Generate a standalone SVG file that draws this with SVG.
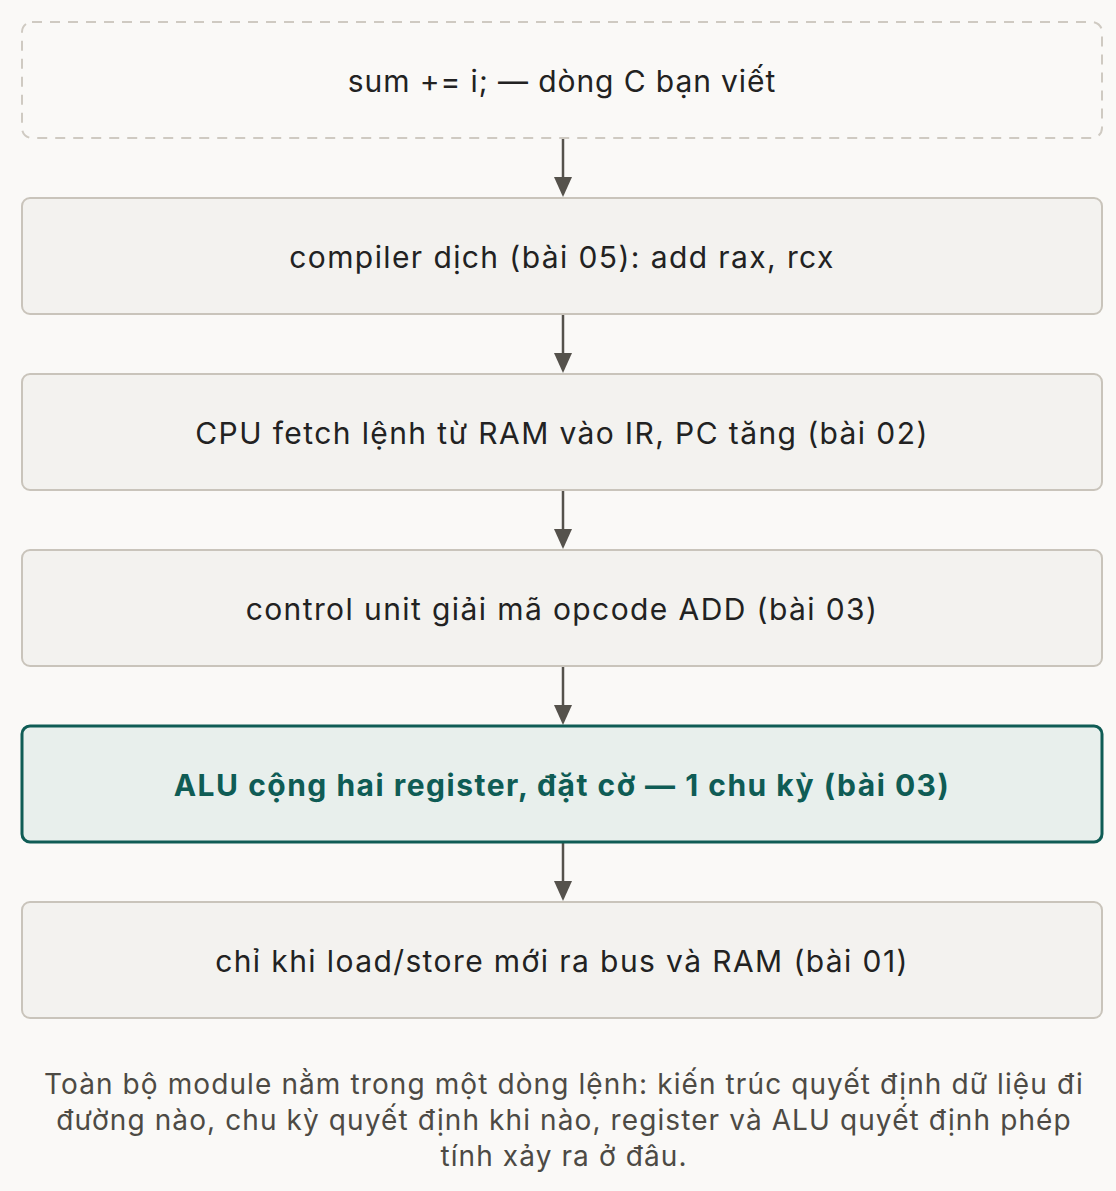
<svg xmlns="http://www.w3.org/2000/svg" width="1116" height="1191" viewBox="0 0 1116 1191">
<style>
.bg{fill:#faf9f7}
.box{fill:#f3f2ef;stroke:#c9c4bb;stroke-width:2}
.dash{fill:none;stroke:#cfcac2;stroke-width:2;stroke-dasharray:10 8}
.hl{fill:#e8efec;stroke:#0f5c55;stroke-width:3}
.t{font-family:Inter,"Liberation Sans",sans-serif;font-size:30px;letter-spacing:1.4px;fill:#222;text-anchor:middle}
.th{font-family:Inter,"Liberation Sans",sans-serif;font-size:30px;letter-spacing:1.5px;font-weight:700;fill:#0f5c55;text-anchor:middle}
.cap{font-family:Inter,"Liberation Sans",sans-serif;font-size:28px;letter-spacing:1.1px;fill:#4d4a44;text-anchor:middle}
.c{stroke:#55524c;stroke-width:2.5;fill:none}
.ah{fill:#55524c}
</style>
<rect class="bg" x="0" y="0" width="1116" height="1191"/>
<g id="connectors">
<line class="c" x1="563" y1="138" x2="563" y2="178"/><path class="ah" d="M554,177 L572,177 L563,197 Z"/>
<line class="c" x1="563" y1="314" x2="563" y2="354"/><path class="ah" d="M554,353 L572,353 L563,373 Z"/>
<line class="c" x1="563" y1="490" x2="563" y2="530"/><path class="ah" d="M554,529 L572,529 L563,549 Z"/>
<line class="c" x1="563" y1="666" x2="563" y2="706"/><path class="ah" d="M554,705 L572,705 L563,725 Z"/>
<line class="c" x1="563" y1="842" x2="563" y2="882"/><path class="ah" d="M554,881 L572,881 L563,901 Z"/>
</g>
<g id="n1"><rect class="dash" x="22" y="22" width="1080" height="116" rx="10"/><text class="t" x="562" y="92" style="letter-spacing:0.9px">sum += i; — dòng C bạn viết</text></g>
<g id="n2"><rect class="box" x="22" y="198" width="1080" height="116" rx="8"/><text class="t" x="562" y="268">compiler dịch (bài 05): add rax, rcx</text></g>
<g id="n3"><rect class="box" x="22" y="374" width="1080" height="116" rx="8"/><text class="t" x="562" y="444">CPU fetch lệnh từ RAM vào IR, PC tăng (bài 02)</text></g>
<g id="n4"><rect class="box" x="22" y="550" width="1080" height="116" rx="8"/><text class="t" x="562" y="620">control unit giải mã opcode ADD (bài 03)</text></g>
<g id="n5"><rect class="hl" x="22" y="726" width="1080" height="116" rx="8"/><text class="th" x="562" y="796">ALU cộng hai register, đặt cờ — 1 chu kỳ (bài 03)</text></g>
<g id="n6"><rect class="box" x="22" y="902" width="1080" height="116" rx="8"/><text class="t" x="562" y="972">chỉ khi load/store mới ra bus và RAM (bài 01)</text></g>
<g id="caption">
<text class="cap" x="564" y="1094">Toàn bộ module nằm trong một dòng lệnh: kiến trúc quyết định dữ liệu đi</text>
<text class="cap" x="564" y="1130">đường nào, chu kỳ quyết định khi nào, register và ALU quyết định phép</text>
<text class="cap" x="564" y="1166">tính xảy ra ở đâu.</text>
</g>
</svg>
